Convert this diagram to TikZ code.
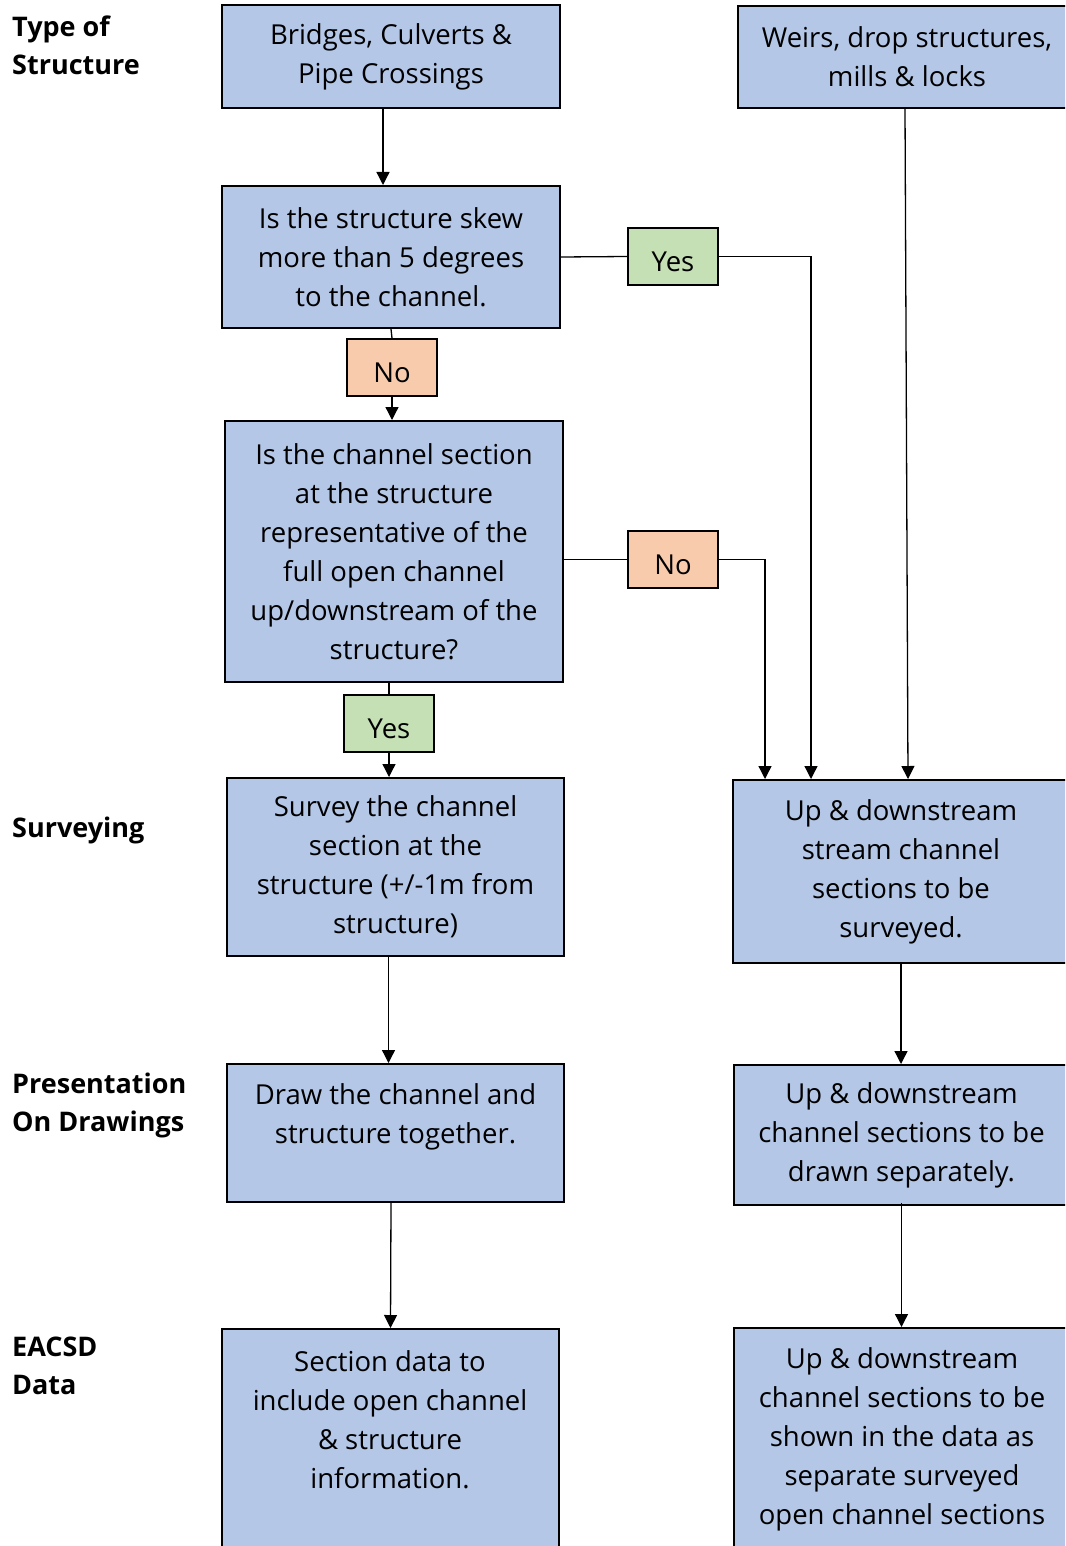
\documentclass[tikz,border=0pt]{standalone}
\usepackage{fontspec}
\setmainfont{Open Sans}
\usetikzlibrary{arrows.meta}

\definecolor{boxblue}{HTML}{B4C7E7}
\definecolor{yesgreen}{HTML}{C5E0B4}
\definecolor{nopeach}{HTML}{F8CBAD}
\newcommand{\flowfont}{\fontsize{27.5}{39}\selectfont}
\newcommand{\stagefont}{\fontsize{27}{38}\selectfont\bfseries}

\tikzset{
  box/.style={draw=black, line width=2pt, fill=boxblue, align=center, inner sep=0pt, font=\flowfont},
  yesbox/.style={draw=black, line width=1.6pt, fill=yesgreen, minimum width=90pt, minimum height=57pt, inner sep=0pt, text height=30pt, text depth=0pt, font=\flowfont},
  nobox/.style={yesbox, fill=nopeach},
  boxtext/.style={align=center, inner sep=0pt, font=\flowfont},
  stage/.style={anchor=north west, align=left, inner sep=0pt, font=\stagefont},
  conn/.style={line width=1.3pt},
  arr/.style={conn, -{Triangle[width=13pt,length=13pt]}}
}

\begin{document}
\begin{tikzpicture}[x=1pt, y=-1pt]
		%%%%% START %%%%%
		\useasboundingbox (0,0) rectangle (1065,1546);
		\clip (0,0) rectangle (1065,1546);
		
		% stage labels
		\node[stage] (typelbl) at (12,16) {Type of\\Structure};
		\node[stage] (surveylbl) at (12,817) {Surveying};
		\node[stage] (presentlbl) at (12,1073) {Presentation\\On Drawings};
		\node[stage] (datalbl) at (12,1337) {EACSD\\Data};
		
		% top row
		\node[box, minimum width=338pt, minimum height=103pt] (bridges) at (391,56.5) {Bridges, Culverts \&\\Pipe Crossings};
		\node[box, minimum width=338pt, minimum height=102pt] (weirs) at (907,57) {Weirs, drop structures,\\mills \& locks};
		
		% questions
		\node[box, minimum width=338pt, minimum height=142pt] (skew) at (391,257) {Is the structure skew\\more than 5 degrees\\to the channel.};
		\node[yesbox] (yesA) at (673,256.5) {Yes};
		\node[nobox] (noA) at (392,367.5) {No};
		\node[box, minimum width=338pt, minimum height=261pt] (channel) at (394,551.5) {Is the channel section\\at the structure\\representative of the\\full open channel\\up/downstream of the\\structure?};
		\node[nobox] (noB) at (673,559.5) {No};
		\node[yesbox] (yesB) at (389,723.5) {Yes};
		
		% surveying
		\node[box, minimum width=337pt, minimum height=178pt] (survey) at (395.5,867) {Survey the channel\\section at the\\structure (+/-1m from\\structure)};
		\node[box, minimum width=336pt, minimum height=183pt] (upsurvey) at (901,871.5) {Up \& downstream\\stream channel\\sections to be\\surveyed.};
		
		% drawings
		\node[box, minimum width=337pt, minimum height=138pt] (drawtog) at (395.5,1133) {Draw the channel and\\structure together.\\~};
		\node[box, minimum width=335pt, minimum height=140pt] (drawsep) at (901.5,1135) {Up \& downstream\\channel sections to be\\drawn separately.};
		
		% data
		\node[box, anchor=north, minimum width=337pt, minimum height=300pt] (sectdata) at (390.5,1328) {};
		\node[boxtext] (sectdatatxt) at (390,1420) {Section data to\\include open channel\\\& structure\\information.};
		\node[box, anchor=north, minimum width=335pt, minimum height=300pt] (updata) at (901.5,1327) {};
		\node[boxtext] (updatatxt) at (902,1439) {Up \& downstream\\channel sections to be\\shown in the data as\\separate surveyed\\open channel sections};
		
		% connectors
		\draw[arr] ([xshift=-8pt]bridges.south) -- ([xshift=-8pt]skew.north);
		\draw[conn] (skew.south) -- (noA.north);
		\draw[arr] (noA.south) -- (noA.south |- channel.north);
		\draw[conn] (skew.east) -- (yesA.west);
		\draw[arr] (yesA.east) -| ([xshift=-90pt]upsurvey.north);
		\draw[conn] (channel.east |- noB.west) -- (noB.west);
		\draw[arr] (noB.east) -| ([xshift=-136pt]upsurvey.north);
		\draw[arr] ([xshift=-2pt]weirs.south) -- ([xshift=7pt]upsurvey.north);
		\draw[conn] (yesB.north |- channel.south) -- (yesB.north);
		\draw[arr] (yesB.south) -- (yesB.south |- survey.north);
		\draw[arr] ([xshift=-7pt]survey.south) -- ([xshift=-7pt]drawtog.north);
		\draw[arr] (upsurvey.south) -- (upsurvey.south |- drawsep.north);
		\draw[arr] ([xshift=-4.5pt]drawtog.south) -- (sectdata.north);
		\draw[arr] ([yshift=3pt]drawsep.south) -- (updata.north);
		
		%%%%% END %%%%%
	\end{tikzpicture}
\end{document}
